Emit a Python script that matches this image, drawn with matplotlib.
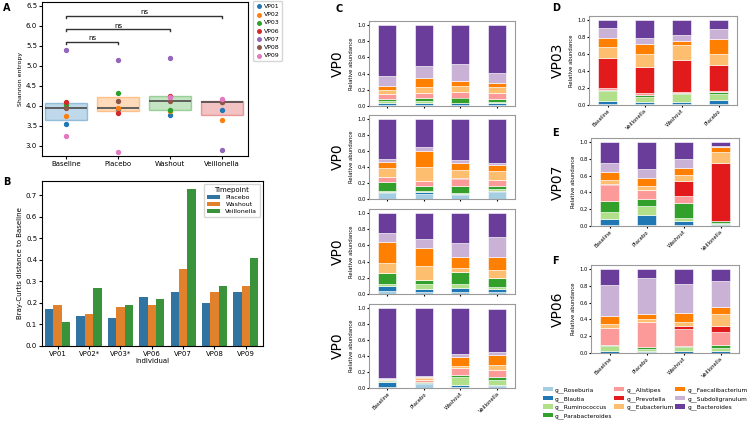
import numpy as np
import matplotlib.pyplot as plt
from matplotlib.patches import Patch

W, H = 747, 422

# ---- data ----
timepoints = ['Baseline', 'Placebo', 'Washout', 'Veillonella']
individuals = ['VP01', 'VP02', 'VP03', 'VP06', 'VP07', 'VP08', 'VP09']

# Shannon entropy, one row per individual, columns follow timepoints
shannon_vp01 = [3.55, 3.93, 3.77, 3.91]
shannon_vp02 = [3.76, 3.96, 3.87, 3.64]
shannon_vp03 = [4.03, 4.32, 3.91, 4.11]
shannon_vp06 = [4.10, 3.82, 4.26, 4.13]
shannon_vp07 = [5.39, 5.16, 5.20, 2.90]
shannon_vp08 = [3.96, 4.13, 4.12, 4.11]
shannon_vp09 = [3.25, 2.85, 4.22, 4.18]
shannon = [shannon_vp01, shannon_vp02, shannon_vp03, shannon_vp06,
           shannon_vp07, shannon_vp08, shannon_vp09]

# Bray-Curtis distance to baseline
bc_labels = ['VP01', 'VP02*', 'VP03*', 'VP06', 'VP07', 'VP08', 'VP09']
bc_placebo = [0.17, 0.14, 0.13, 0.23, 0.25, 0.20, 0.25]
bc_washout = [0.19, 0.15, 0.18, 0.19, 0.36, 0.25, 0.28]
bc_veillonella = [0.11, 0.27, 0.19, 0.22, 0.73, 0.28, 0.41]

genera = ['g__Roseburia', 'g__Blautia', 'g__Ruminococcus', 'g__Parabacteroides',
          'g__Alistipes', 'g__Prevotella', 'g__Eubacterium', 'g__Faecalibacterium',
          'g__Subdoligranulum', 'g__Bacteroides']

# relative abundance, one row per bar, columns follow genera
c1_abund = [[0.017, 0.021, 0.029, 0.021, 0.058, 0.002, 0.050, 0.050, 0.117, 0.636],
            [0.013, 0.025, 0.025, 0.033, 0.063, 0.002, 0.077, 0.105, 0.151, 0.506],
            [0.013, 0.020, 0.008, 0.064, 0.062, 0.002, 0.078, 0.058, 0.214, 0.481],
            [0.013, 0.020, 0.021, 0.034, 0.069, 0.002, 0.077, 0.047, 0.121, 0.594]]
c2_abund = [[0.075, 0.012, 0.013, 0.113, 0.066, 0.002, 0.107, 0.079, 0.033, 0.500],
            [0.058, 0.029, 0.017, 0.059, 0.058, 0.002, 0.173, 0.208, 0.042, 0.354],
            [0.050, 0.012, 0.013, 0.092, 0.089, 0.002, 0.107, 0.083, 0.038, 0.512],
            [0.088, 0.017, 0.017, 0.042, 0.075, 0.002, 0.108, 0.079, 0.021, 0.554]]
c3_abund = [[0.033, 0.066, 0.025, 0.132, 0.002, 0.000, 0.128, 0.256, 0.110, 0.248],
            [0.020, 0.040, 0.058, 0.058, 0.003, 0.000, 0.166, 0.219, 0.120, 0.314],
            [0.020, 0.054, 0.046, 0.148, 0.005, 0.000, 0.053, 0.133, 0.165, 0.376],
            [0.020, 0.046, 0.017, 0.113, 0.002, 0.000, 0.100, 0.157, 0.243, 0.302]]
c4_abund = [[0.013, 0.066, 0.003, 0.015, 0.005, 0.000, 0.006, 0.005, 0.012, 0.875],
            [0.045, 0.013, 0.005, 0.012, 0.020, 0.000, 0.030, 0.010, 0.013, 0.850],
            [0.012, 0.021, 0.099, 0.033, 0.083, 0.000, 0.021, 0.115, 0.037, 0.579],
            [0.020, 0.020, 0.065, 0.030, 0.091, 0.000, 0.066, 0.124, 0.029, 0.545]]

d_order = ['Baseline', 'Veillonella', 'Washout', 'Placebo']
d_abund = [[0.008, 0.040, 0.118, 0.012, 0.024, 0.352, 0.126, 0.110, 0.115, 0.095],
           [0.012, 0.020, 0.063, 0.028, 0.020, 0.305, 0.158, 0.117, 0.063, 0.214],
           [0.008, 0.028, 0.091, 0.016, 0.012, 0.380, 0.170, 0.055, 0.060, 0.180],
           [0.008, 0.047, 0.080, 0.020, 0.015, 0.297, 0.139, 0.178, 0.116, 0.100]]
e_abund = [[0.008, 0.072, 0.087, 0.136, 0.183, 0.020, 0.040, 0.095, 0.108, 0.251],
           [0.016, 0.111, 0.108, 0.092, 0.099, 0.002, 0.046, 0.104, 0.103, 0.319],
           [0.008, 0.052, 0.032, 0.187, 0.076, 0.179, 0.072, 0.091, 0.100, 0.203],
           [0.008, 0.012, 0.020, 0.016, 0.008, 0.689, 0.127, 0.060, 0.020, 0.040]]
f_abund = [[0.004, 0.024, 0.059, 0.012, 0.195, 0.000, 0.051, 0.099, 0.369, 0.187],
           [0.012, 0.016, 0.024, 0.015, 0.306, 0.000, 0.032, 0.063, 0.432, 0.100],
           [0.004, 0.020, 0.047, 0.016, 0.195, 0.043, 0.048, 0.099, 0.353, 0.175],
           [0.004, 0.016, 0.043, 0.028, 0.155, 0.079, 0.143, 0.076, 0.317, 0.139]]


def box(l, t, r, b):
    # pixel box -> figure fraction
    return [l / W, 1 - b / H, (r - l) / W, (b - t) / H]


tab10 = plt.get_cmap('tab10').colors
paired = plt.get_cmap('Paired').colors[:10]

fig = plt.figure(figsize=(W / 100, H / 100), dpi=100)

# ---- A: Shannon entropy ----
axA = fig.add_axes(box(42, 2, 248, 156))
pos = np.arange(len(timepoints))
per_tp = [[row[j] for row in shannon] for j in range(len(timepoints))]
bp = axA.boxplot(per_tp, positions=pos, widths=0.8, patch_artist=True, whis=0,
                 showfliers=False, showcaps=False,
                 medianprops=dict(color='#4a4a4a', lw=1.2),
                 whiskerprops=dict(lw=0))
for j, patch in enumerate(bp['boxes']):
    patch.set_facecolor((*tab10[j], 0.28))
    patch.set_edgecolor((*tab10[j], 0.4))
for i, name in enumerate(individuals):
    axA.scatter(pos, shannon[i], s=8, color=tab10[i], zorder=3, label=name)

def bracket(ax, x1, x2, y, h=0.05):
    ax.plot([x1, x1, x2, x2], [y - h, y, y, y - h], color='#333333', lw=1)
    ax.text((x1 + x2) / 2, y + 0.01, 'ns', ha='center', va='bottom', fontsize=5)

bracket(axA, 0, 1, 5.61)
bracket(axA, 0, 2, 5.92)
bracket(axA, 0, 3, 6.26)
axA.set_xlim(-0.46, 3.5)
axA.set_ylim(2.75, 6.6)
axA.set_xticks(pos)
axA.set_xticklabels(timepoints)
axA.set_ylabel('Shannon entropy', fontsize=4.5, labelpad=2)
axA.tick_params(labelsize=5, length=2, pad=1.5)
axA.legend(loc='upper left', bbox_to_anchor=(1.025, 1.005), fontsize=4.5,
           handletextpad=0.3, borderpad=0.4, labelspacing=0.45, handlelength=1,
           markerscale=0.9, borderaxespad=0)

# ---- B: Bray-Curtis ----
axB = fig.add_axes(box(42, 181, 263, 346))
x = np.arange(len(bc_labels))
bw = 0.8 / 3
bc_colors = ['#3274a1', '#e1812c', '#3a923a']
for k, (vals, lab) in enumerate(zip([bc_placebo, bc_washout, bc_veillonella],
                                    ['Placebo', 'Washout', 'Veillonella'])):
    axB.bar(x + (k - 1) * bw, vals, width=bw, color=bc_colors[k], label=lab)
axB.set_xlim(-0.5, 6.55)
axB.set_ylim(0, 0.767)
axB.set_xticks(x)
axB.set_xticklabels(bc_labels)
axB.set_yticks(np.arange(0, 0.71, 0.1))
axB.set_xlabel('Individual', fontsize=5, labelpad=1)
axB.set_ylabel('Bray-Curtis distance to Baseline', fontsize=5, labelpad=2)
axB.tick_params(labelsize=5, length=2, pad=1.5)
axB.legend(title='Timepoint', loc='upper right', fontsize=4.5, title_fontsize=5,
           handlelength=2.2, borderpad=0.4, labelspacing=0.3)

# ---- C-F: stacked relative abundance ----
def stacked(ax, data, labels, show_x):
    arr = np.array(data)
    cum = np.cumsum(arr, axis=1)
    xs = np.arange(arr.shape[0])
    for g in range(arr.shape[1]):
        ax.bar(xs, arr[:, g], bottom=cum[:, g] - arr[:, g], width=0.5,
               color=paired[g], edgecolor='white', linewidth=0.4)
    ax.set_xlim(-0.5, arr.shape[0] - 0.5)
    ax.set_ylim(0, 1.05)
    ax.set_xticks(xs)
    ax.set_yticks(np.arange(0, 1.01, 0.2))
    if show_x:
        ax.set_xticklabels(labels, rotation=45, ha='right', rotation_mode='anchor')
    else:
        ax.set_xticklabels([])
    ax.set_ylabel('Relative abundance', fontsize=3.8, labelpad=2)
    ax.tick_params(labelsize=3.8, length=1.5, pad=1)
    for s in ax.spines.values():
        s.set_color('#9a9a9a')

c_boxes = [(369, 21, 515, 106), (369, 115, 515, 199), (369, 209, 515, 294), (369, 304, 515, 388)]
for k, (data, bx) in enumerate(zip([c1_abund, c2_abund, c3_abund, c4_abund], c_boxes)):
    ax = fig.add_axes(box(*bx))
    stacked(ax, data, timepoints, k == 3)
    fig.text(338 / W, 1 - (bx[1] + bx[3]) / 2 / H, 'VP0', rotation=90,
             ha='center', va='center', fontsize=10)

side = [(d_abund, d_order, (589, 16, 737, 105), 'VP03'),
        (e_abund, timepoints, (591, 138, 739, 226), 'VP07'),
        (f_abund, timepoints, (591, 265, 739, 353), 'VP06')]
for data, labs, bx, name in side:
    ax = fig.add_axes(box(*bx))
    stacked(ax, data, labs, True)
    fig.text(558 / W, 1 - (bx[1] + bx[3]) / 2 / H, name, rotation=90,
             ha='center', va='center', fontsize=10)

handles = [Patch(facecolor=paired[g], label=genera[g]) for g in range(len(genera))]
fig.legend(handles=handles, ncol=3, loc='upper left',
           bbox_to_anchor=(543 / W, 1 - 387 / H), frameon=False, fontsize=4.2,
           handlelength=1.7, handleheight=0.8, columnspacing=0.3,
           labelspacing=0.45, handletextpad=0.35, borderaxespad=0, borderpad=0)

# panel letters
for letter, px, py in [('A', 3, 8), ('B', 3, 182), ('C', 336, 9),
                       ('D', 552, 8), ('E', 552, 133), ('F', 552, 261)]:
    fig.text(px / W, 1 - py / H, letter, fontsize=7, fontweight='bold',
             ha='left', va='center')

fig.savefig('out.png', dpi=100)
